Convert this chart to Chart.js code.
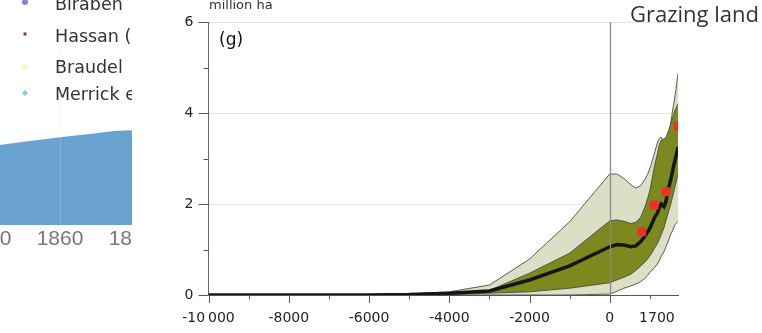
<!DOCTYPE html>
<html><head><meta charset="utf-8">
<script src="https://cdn.jsdelivr.net/npm/chart.js@4/dist/chart.umd.min.js"></script>
<style>
html,body{margin:0;padding:0;background:#fff;width:762px;height:333px;overflow:hidden;}
#left{position:absolute;left:0;top:0;width:132px;height:333px;overflow:hidden;}
#leftCanvas{position:absolute;left:-40px;top:0;}
#main{position:absolute;left:0;top:0;}
</style></head><body>
<div id="left"><canvas id="leftCanvas" width="300" height="333"></canvas></div>
<canvas id="main" width="762" height="333"></canvas>
<script>
// ---------- Main panel data (g) Grazing land, million ha ----------
const years = [-10000,-9000,-8000,-7000,-6000,-5000,-4000,-3000,-2000,-1000,0,
  300,600,900,1100,1300,1500,1600,1700,1750,1780,1800,1820,1850,1870,1900,1920,1950,1970,2000];
const outerUpper = [0,0,0,0,0.01,0.02,0.07,0.22,0.79,1.61,2.66,
  2.66,2.56,2.42,2.35,2.40,2.55,2.65,2.78,3.12,3.35,3.44,3.47,3.36,3.22,3.50,3.75,4.15,4.40,4.87];
const outerLower = [0,0,0,0,0,0,0,0,0,0,0.02,
  0.08,0.15,0.20,0.24,0.29,0.37,0.43,0.50,0.60,0.68,0.75,0.85,0.95,1.05,1.20,1.32,1.45,1.55,1.62];
const innerUpper = [0,0,0,0,0,0.01,0.05,0.10,0.48,0.92,1.63,
  1.65,1.62,1.57,1.60,1.70,1.95,2.12,2.30,2.85,3.10,3.30,3.40,3.43,3.45,3.62,3.75,3.95,4.07,4.20];
const innerLower = [0,0,0,0,0,0,0.01,0.04,0.07,0.15,0.27,
  0.33,0.39,0.46,0.54,0.63,0.73,0.79,0.86,1.03,1.13,1.22,1.32,1.48,1.62,1.84,1.98,2.22,2.40,2.65];
const median = [0,0,0,0,0,0.01,0.04,0.09,0.33,0.64,1.06,
  1.11,1.10,1.06,1.08,1.17,1.30,1.38,1.47,1.70,1.80,1.92,2.00,1.94,2.05,2.35,2.52,2.80,2.98,3.25];
const otherYears = [1350,1745,1870,2000];
const otherValues = [1.39,1.98,2.27,3.71];

const xLabelYears = [-10000,-8000,-6000,-4000,-2000,0,1700];
const xLabels = ['-10\u2009000','-8000','-6000','-4000','-2000','0','1700'];
const xMajorTickYears = [-10000,-8000,-6000,-4000,-2000,0];
const xMinorTickYears = [-9000,-7000,-5000,-3000,-1000,1700];
const yMajorTicks = [0,2,4,6];
const yMinorTicks = [1,3,5];
const zeroYear = 0;

// ---------- Left (cropped) panel data ----------
const popYears = [1840,1850,1860,1870,1875,1880,1890,1900];
const popValues = [1.176,1.248,1.315,1.378,1.41,1.42,1.45,1.50];
const popTickYears = [1840,1860,1880,1900];
const legendNames = ['Biraben','Hassan (2002)','Braudel','Merrick et al. (1986)'];
const legendColors = ['#8a7fd3','#9b2d4b','#fbf3c0','#8ec5ea'];

// piecewise time axis: -10000..0 | 0..1700 | 1700..2000
const axisBreaks = [[-10000,-10000],[0,0],[1700,1000],[2000,1700]];
function yearToAxis(yr){
  for(let i=0;i<axisBreaks.length-1;i++){
    const [y0,u0]=axisBreaks[i],[y1,u1]=axisBreaks[i+1];
    if(yr<=y1||i===axisBreaks.length-2) return u0+(yr-y0)*(u1-u0)/(y1-y0);
  }
}
const pts = arr => years.map((yr,i)=>({x:yearToAxis(yr),y:arr[i]}));
const LAST = xLabels.length-1;

const decoPlugin = {
  id:'deco',
  afterDatasetsDraw(chart){
    const {ctx, scales:{x}, chartArea} = chart;
    const p = Math.round(x.getPixelForValue(yearToAxis(zeroYear)))+0.5;
    ctx.save();
    ctx.strokeStyle='#8a8a8a'; ctx.lineWidth=1.3;
    ctx.beginPath(); ctx.moveTo(p,chartArea.top); ctx.lineTo(p,chartArea.bottom); ctx.stroke();
    ctx.restore();
  },
  afterDraw(chart){
    const {ctx, scales:{x,y}, chartArea} = chart;
    ctx.save();
    ctx.strokeStyle='#555'; ctx.lineWidth=1;
    const b = y.getPixelForValue(0);
    const seg=(x0,y0,x1,y1)=>{ctx.beginPath();ctx.moveTo(x0,y0);ctx.lineTo(x1,y1);ctx.stroke();};
    xMajorTickYears.forEach(yr=>{const p=Math.round(x.getPixelForValue(yearToAxis(yr)))+0.5; seg(p,b,p,b+8);});
    xMinorTickYears.forEach(yr=>{const p=Math.round(x.getPixelForValue(yearToAxis(yr)))+0.5; seg(p,b,p,b+4);});
    const l = chartArea.left;
    yMajorTicks.forEach(v=>{const p=Math.round(y.getPixelForValue(v))+0.5; seg(l-10,p,l,p);});
    yMinorTicks.forEach(v=>{const p=Math.round(y.getPixelForValue(v))+0.5; seg(l-5,p,l,p);});
    // last (1700) tick label, printed slightly right of its tick as in the source figure
    ctx.fillStyle='#222'; ctx.font='14px "DejaVu Sans"'; ctx.textAlign='center'; ctx.textBaseline='middle';
    ctx.fillText(xLabels[LAST], x.getPixelForValue(yearToAxis(xLabelYears[LAST]))+7, b+23.5);
    ctx.fillStyle='#333'; ctx.textBaseline='alphabetic'; ctx.textAlign='left';
    ctx.font='13px "DejaVu Sans"'; ctx.fillText('million ha', 209, 8.5);
    ctx.fillStyle='#111';
    ctx.font='17px "DejaVu Sans"'; ctx.fillText('(g)', 219, 45);
    ctx.fillStyle='#333';
    ctx.font='22px "Open Sans"'; ctx.fillText('Grazing land', 630, 21.5);
    ctx.restore();
  }
};

const fineLine = '#4a4a4a';
new Chart(document.getElementById('main'), {
  type:'line',
  data:{datasets:[
    {data:pts(outerUpper), fill:1, backgroundColor:'#dcdec6', borderColor:fineLine, borderWidth:0.9, pointRadius:0, tension:0, order:6},
    {data:pts(outerLower), fill:false, borderColor:fineLine, borderWidth:0.9, pointRadius:0, tension:0, order:5},
    {data:pts(innerUpper), fill:3, backgroundColor:'#7b891f', borderColor:fineLine, borderWidth:0.9, pointRadius:0, tension:0, order:4},
    {data:pts(innerLower), fill:false, borderColor:fineLine, borderWidth:0.9, pointRadius:0, tension:0, order:3},
    {data:pts(median), fill:false, borderColor:'#151515', borderWidth:3.5, pointRadius:0, tension:0, order:2},
    {type:'scatter', data:otherYears.map((yr,i)=>({x:yearToAxis(yr),y:otherValues[i]})), pointStyle:'rect', pointRadius:6.3, backgroundColor:'#ee3124', borderWidth:0, order:1}
  ]},
  options:{
    responsive:false, animation:false, events:[],
    layout:{padding:{left:0,right:84,top:22,bottom:0}},
    plugins:{legend:{display:false}, tooltip:{enabled:false}},
    scales:{
      x:{type:'linear', min:-10000, max:1700,
        afterBuildTicks:s=>{s.ticks = xLabelYears.map(yr=>({value:yearToAxis(yr)}));},
        afterFit:s=>{s.height=38;},
        ticks:{autoSkip:false, maxRotation:0, padding:7, color:'#222', font:{family:'DejaVu Sans', size:14},
          callback:(v,i)=>(i===LAST?'':xLabels[i])},
        grid:{drawTicks:true, tickLength:8, tickColor:'transparent', color:'transparent'},
        border:{display:true, color:'#555', width:1}
      },
      y:{min:0, max:6,
        afterBuildTicks:s=>{s.ticks = yMajorTicks.map(v=>({value:v}));},
        afterFit:s=>{s.width=208.5;},
        ticks:{padding:5, color:'#222', font:{family:'DejaVu Sans', size:14}},
        grid:{drawTicks:true, tickLength:10, tickColor:'transparent',
          color:c=>(c.tick && c.tick.value===0)?'transparent':'#e3e3e3'},
        border:{display:true, color:'#666', width:1}
      }
    }
  },
  plugins:[decoPlugin]
});

// ---------- left cropped panel ----------
const leftLegend = {
  id:'leftLegend',
  afterDraw(chart){
    const ctx = chart.ctx, off = 40;
    const baselines = [9.5,42,73,100];
    const markerY = [2,34,67,93];
    ctx.save();
    ctx.font='17.5px "DejaVu Sans"'; ctx.fillStyle='#333'; ctx.textBaseline='alphabetic';
    legendNames.forEach((n,i)=>{
      ctx.fillText(n, 55+off, baselines[i]);
      ctx.fillStyle=legendColors[i];
      const cx=25+off, cy=markerY[i];
      ctx.beginPath();
      if(i===0){ctx.arc(cx,cy,3,0,Math.PI*2);}
      else if(i===1){ctx.rect(cx-1.5,cy-1.5,3,3);}
      else if(i===2){ctx.rect(cx-2.5,cy-2.5,5,5);}
      else {ctx.moveTo(cx,cy-3);ctx.lineTo(cx+3,cy);ctx.lineTo(cx,cy+3);ctx.lineTo(cx-3,cy);ctx.closePath();}
      ctx.fill();
      ctx.fillStyle='#333';
    });
    ctx.restore();
  }
};
new Chart(document.getElementById('leftCanvas'), {
  type:'line',
  data:{datasets:[{data:popYears.map((yr,i)=>({x:yr,y:popValues[i]})), fill:'origin',
    backgroundColor:'#6aa3cf', borderWidth:0, pointRadius:0, tension:0}]},
  options:{
    responsive:false, animation:false, events:[],
    layout:{padding:{left:28,right:56,top:25,bottom:0}},
    plugins:{legend:{display:false}, tooltip:{enabled:false}},
    scales:{
      x:{type:'linear', min:1840, max:1900,
        afterBuildTicks:s=>{s.ticks = popTickYears.map(v=>({value:v}));},
        afterFit:s=>{s.height=108;},
        ticks:{autoSkip:false, maxRotation:0, padding:2, color:'#777', font:{family:'Liberation Sans', size:21},
          callback:v=>String(v)},
        grid:{z:1, drawTicks:false, color:'rgba(225,225,225,0.25)'},
        border:{display:false}
      },
      y:{display:false, min:0, max:3}
    }
  },
  plugins:[leftLegend]
});
</script>
</body></html>
